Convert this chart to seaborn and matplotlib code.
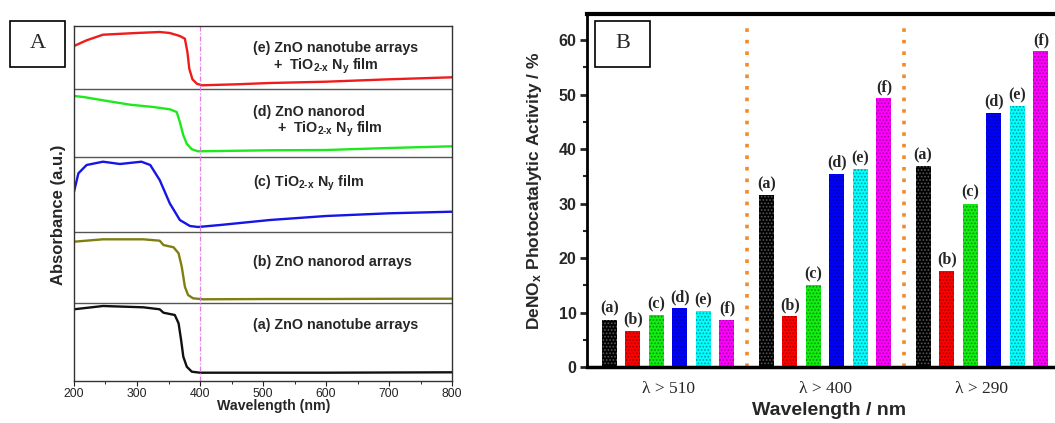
import numpy as np
import pandas as pd
import matplotlib.pyplot as plt
import seaborn as sns
from matplotlib.patches import Rectangle
from matplotlib.ticker import MultipleLocator
from matplotlib.colors import to_rgb

sns.set_style("white")
plt.rcParams['font.family'] = ['Liberation Sans', 'DejaVu Sans']
plt.rcParams['mathtext.fontset'] = 'custom'
plt.rcParams['mathtext.rm'] = 'Liberation Sans:bold'
plt.rcParams['mathtext.it'] = 'Liberation Sans:bold'
plt.rcParams['mathtext.bf'] = 'Liberation Sans:bold'
plt.rcParams['hatch.linewidth'] = 0.8

# Panel A: UV-vis spectra (stacked, arbitrary units)
wl_a = [200, 246, 310, 336, 342, 360, 366, 370, 373.5, 379, 387, 400, 511, 600, 700, 800]
abs_a = [71.7, 75, 73.7, 71.7, 68.3, 66, 57.7, 41, 24.3, 14.3, 9.3, 8.3, 8.3, 8.3, 8.5, 8.7]

wl_b = [200, 246, 310, 336, 342, 358, 366, 371, 376, 381, 389, 405, 511, 600, 700, 800]
abs_b = [139.3, 141.7, 141.7, 140.3, 136, 133.7, 127.7, 114.3, 94.3, 86, 82.7, 81.7, 82, 82, 82.2, 82.3]

wl_c = [200, 207, 220, 246, 273, 307, 321, 336, 352, 368, 384, 397, 432, 511, 600, 700, 800]
abs_c = [189.3, 207.7, 216, 219.3, 217, 219.3, 216, 201, 177.7, 161, 155, 154, 156, 161, 165, 167.7, 169.3]

wl_d = [200, 215, 246, 289, 326, 352, 363, 368, 373.5, 379, 387, 397, 511, 600, 700, 800]
abs_d = [285, 284, 280.7, 276.3, 274, 271.7, 269, 259, 245.7, 237.3, 231.7, 229.7, 230.7, 231, 233, 234.7]

wl_e = [200, 220, 246, 299, 336, 352, 368, 376, 380, 383, 388, 395, 403, 458, 511, 600, 700, 800]
abs_e = [335, 340.7, 346.3, 348, 349, 348, 345, 342.3, 329, 312.3, 301.7, 297.3, 295.7, 296.7, 298, 299.3, 301.7, 303.7]

separators = [78.5, 149.3, 223.7, 292.3]

# Panel B: DeNOx activity
cutoffs = ['λ > 510', 'λ > 400', 'λ > 290']
samples = ['a', 'b', 'c', 'd', 'e', 'f']
activity = {
    'a': [8.7, 31.5, 36.9],
    'b': [6.7, 9.3, 17.7],
    'c': [9.5, 15.1, 30.0],
    'd': [10.8, 35.5, 46.7],
    'e': [10.3, 36.3, 47.9],
    'f': [8.7, 49.4, 58.0],
}
bar_colors = ['#000000', '#ff0000', '#11ee11', '#0000ff', '#00ffff', '#ff00ff']

fig = plt.figure(figsize=(10.55, 4.23), dpi=100)
W, H = 1055, 423
axA = fig.add_axes([74 / W, 1 - 381 / H, 378 / W, 355 / H])
axB = fig.add_axes([587 / W, 1 - 367 / H, (W - 587) / W, 353 / H])

# ---- panel A ----
rows = []
for name, wl, ab in [('a', wl_a, abs_a), ('b', wl_b, abs_b), ('c', wl_c, abs_c),
                     ('d', wl_d, abs_d), ('e', wl_e, abs_e)]:
    for w, v in zip(wl, ab):
        rows.append((name, w, v))
dfA = pd.DataFrame(rows, columns=['sample', 'wavelength', 'absorbance'])
line_colors = {'a': '#111111', 'b': '#7f7f10', 'c': '#1515e6', 'd': '#1ee81e', 'e': '#ee1c1c'}
sns.lineplot(data=dfA, x='wavelength', y='absorbance', hue='sample', palette=line_colors,
             errorbar=None, legend=False, lw=1.7, ax=axA)
for s in separators:
    axA.axhline(s, color='#555555', lw=1.0)
axA.axvline(400, color='#e47be4', lw=0.9, ls=(0, (4, 1.5, 1, 1.5)))
axA.set_xlim(200, 800)
axA.set_ylim(0, 355)
axA.set_yticks([])
axA.xaxis.set_major_locator(MultipleLocator(100))
axA.xaxis.set_minor_locator(MultipleLocator(50))
axA.tick_params(axis='x', which='major', direction='out', length=3.5, width=0.8,
                pad=1.5, labelsize=8.8, bottom=True, colors='#222222')
axA.tick_params(axis='x', which='minor', direction='out', length=2, width=0.7, bottom=True)
for sp in axA.spines.values():
    sp.set_color('#333333')
    sp.set_linewidth(1.0)
axA.set_xlabel('Wavelength (nm)', fontsize=10.2, fontweight='bold')
axA.xaxis.set_label_coords(0.529, -0.05)
axA.set_ylabel('Absorbance (a.u.)', fontsize=12, fontweight='bold')
axA.yaxis.set_label_coords(-0.022, 0.468)

tkw = dict(transform=axA.transAxes, fontsize=10.3, fontweight='bold', va='center', ha='left')
axA.text(0.474, 0.938, '(e) ZnO nanotube arrays', **tkw)
axA.text(0.526, 0.885, r'+  TiO$_{\text{2-x}}$ N$_{y}$ film', **tkw)
axA.text(0.474, 0.758, '(d) ZnO nanorod', **tkw)
axA.text(0.537, 0.708, r'+  TiO$_{\text{2-x}}$ N$_{y}$ film', **tkw)
axA.text(0.474, 0.556, r'(c) TiO$_{\text{2-x}}$ N$_{y}$ film', **tkw)
axA.text(0.474, 0.335, '(b) ZnO nanorod arrays', **tkw)
axA.text(0.474, 0.158, '(a) ZnO nanotube arrays', **tkw)

# ---- panel B ----
dfB = pd.DataFrame([(c, s, activity[s][i]) for s in samples for i, c in enumerate(cutoffs)],
                   columns=['cutoff', 'sample', 'activity'])
sns.barplot(data=dfB, x='cutoff', y='activity', hue='sample', order=cutoffs, hue_order=samples,
            palette=bar_colors, saturation=1, width=0.9, gap=0.36, legend=False, ax=axB)
for cont, s, col in zip(axB.containers, samples, bar_colors):
    rgb = np.array(to_rgb(col))
    dark = (0.35, 0.35, 0.35) if col == '#000000' else tuple(rgb * 0.6)
    for p in cont:
        p.set_hatch('.....')
        p.set_edgecolor(dark)
        p.set_linewidth(0)
    axB.bar_label(cont, labels=[f'({s})'] * len(cont), padding=2,
                  fontsize=11.5, fontweight='bold', family='Liberation Serif')

axB.vlines([0.5, 1.5], 0, 63, colors='#f28c28', lw=2.6, linestyles=[(0, (1, 2.2))])
axB.set_xlim(-0.516, 2.465)
axB.set_ylim(0, 64.8)
axB.yaxis.set_major_locator(MultipleLocator(10))
axB.yaxis.set_minor_locator(MultipleLocator(5))
axB.tick_params(axis='y', which='major', direction='out', length=5, width=2, pad=2.5,
                labelsize=11.5, left=True)
axB.tick_params(axis='y', which='minor', direction='out', length=3, width=1.5, left=True)
for lab in axB.get_yticklabels():
    lab.set_fontweight('bold')
axB.tick_params(axis='x', length=0, pad=10)
for lab in axB.get_xticklabels():
    lab.set_family('Liberation Serif')
    lab.set_fontsize(12.5)
axB.spines['right'].set_visible(False)
axB.spines['top'].set_linewidth(3)
axB.spines['left'].set_linewidth(2)
axB.spines['bottom'].set_linewidth(2.5)
for sp in axB.spines.values():
    sp.set_color('black')
axB.set_xlabel('Wavelength / nm', fontsize=14, fontweight='bold')
axB.xaxis.set_label_coords(0.517, -0.1)
axB.set_ylabel(r'DeNO$_x$ Photocatalytic Activity / %', fontsize=12.5, fontweight='bold')
axB.yaxis.set_label_coords(-0.092, 0.5)

# panel letters
for (x0, y0, letter) in [(10, 21, 'A'), (595, 21, 'B')]:
    fig.add_artist(Rectangle((x0 / W, 1 - (y0 + 46) / H), 55 / W, 46 / H,
                             transform=fig.transFigure, facecolor='white',
                             edgecolor='black', lw=1.2, zorder=5))
    fig.text((x0 + 27.5) / W, 1 - (y0 + 23) / H, letter, family='Liberation Serif',
             fontsize=16, ha='center', va='center', zorder=6)

fig.savefig('out.png', dpi=100)
